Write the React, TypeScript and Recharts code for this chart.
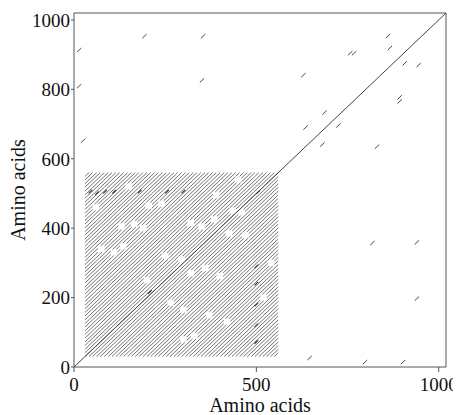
import { Label, Line, LineChart, ReferenceLine, XAxis, YAxis } from "recharts";

const seqLength = 1020;
const xTicks = [0, 500, 1000];
const yTicks = [0, 200, 400, 600, 800, 1000];

// repeat block on the dot plot (same range on both axes)
const blockStart = 30;
const blockEnd = 560;

// offsets (y - x) of the diagonal repeat lines inside the block
const hatchOffsets = [
  -519, -509, -498, -488, -477, -466, -456, -445, -435, -424, -413, -403, -392, -382, -371, -360, -350,
  -339, -329, -318, -307, -297, -286, -276, -265, -254, -244, -233, -223, -212, -201, -191, -180, -170,
  -159, -148, -138, -127, -117, -106, -95, -85, -74, -64, -53, -42, -32, -21, -11, 0, 11, 21, 32, 42, 53,
  64, 74, 85, 95, 106, 117, 127, 138, 148, 159, 170, 180, 191, 201, 212, 223, 233, 244, 254, 265, 276,
  286, 297, 307, 318, 329, 339, 350, 360, 371, 382, 392, 403, 413, 424, 435, 445, 456, 466, 477, 488,
  498, 509, 519,
];

// small breaks in the repeat lines (centres)
const gapX = [
  130, 165, 190, 320, 350, 385, 425, 470, 75, 110, 135, 250, 295, 320, 360, 400, 205, 240, 390, 265, 300,
  370, 420, 300, 330, 435, 460, 60, 540, 520, 200, 150, 450,
];
const gapY = [
  405, 412, 400, 415, 405, 425, 385, 380, 340, 330, 348, 320, 310, 270, 285, 262, 465, 470, 495, 185, 165,
  150, 130, 80, 90, 450, 445, 460, 300, 200, 250, 520, 540,
];
const gapHalf = 9;

// short isolated matches (centres)
const dotX = [14, 193, 354, 14, 351, 25, 861, 866, 757, 768, 907, 945, 629, 893, 893, 687, 635, 725, 681, 831, 818, 940, 940, 646, 798, 902];
const dotY = [913, 953, 953, 809, 826, 652, 954, 919, 904, 904, 875, 870, 841, 777, 765, 733, 690, 696, 641, 635, 357, 359, 197, 26, 14, 14];
const dotHalf = 6;

// darker overlapping matches inside the block
const darkX = [45, 63, 85, 110, 180, 255, 300, 505, 500, 500, 500, 500, 500, 208];
const darkY = [505, 501, 505, 505, 505, 505, 505, 504, 72, 120, 180, 240, 290, 216];

type Pt = { x: number; y: number | null };

function addSeg(out: Pt[], x0: number, y0: number, x1: number, y1: number) {
  out.push({ x: x0, y: y0 }, { x: x1, y: y1 }, { x: x1, y: null });
}

function buildHatch(): Pt[] {
  const out: Pt[] = [];
  hatchOffsets.forEach((d) => {
    const lo = Math.max(blockStart, blockStart - d);
    const hi = Math.min(blockEnd, blockEnd - d);
    if (hi <= lo) return;
    const cuts = gapX
      .map((gx, i) => [
        Math.max(gx - gapHalf, gapY[i] - gapHalf - d),
        Math.min(gx + gapHalf, gapY[i] + gapHalf - d),
      ])
      .filter((c) => c[1] > c[0])
      .sort((a, b) => a[0] - b[0]);
    let start = lo;
    cuts.forEach(([a, b]) => {
      if (a > start) addSeg(out, start, start + d, Math.min(a, hi), Math.min(a, hi) + d);
      start = Math.max(start, b);
    });
    if (hi > start) addSeg(out, start, start + d, hi, hi + d);
  });
  return out;
}

function buildShort(xs: number[], ys: number[], h: number): Pt[] {
  const out: Pt[] = [];
  xs.forEach((x, i) => addSeg(out, x - h, ys[i] - h, x + h, ys[i] + h));
  return out;
}

const hatchData = buildHatch();
const dotData = buildShort(dotX, dotY, dotHalf);
const darkData = buildShort(darkX, darkY, 5);
const diagData: Pt[] = [
  { x: 0, y: 0 },
  { x: seqLength, y: seqLength },
];

const font = { fontFamily: "Liberation Serif, Times New Roman, serif", fontSize: 19, fill: "#111" };

export default function App() {
  return (
    <LineChart width={453} height={407} margin={{ top: 5, right: 15, bottom: 0, left: 0 }}>
      <XAxis
        type="number"
        dataKey="x"
        domain={[0, seqLength]}
        ticks={xTicks}
        allowDataOverflow
        height={48}
        tickSize={5}
        tickMargin={6}
        tick={font}
        stroke="#555"
        interval={0}
      >
        <Label value="Amino acids" position="insideBottom" offset={3} {...font} fontSize={20} />
      </XAxis>
      <YAxis
        type="number"
        domain={[0, seqLength]}
        ticks={yTicks}
        allowDataOverflow
        width={66}
        tickSize={3}
        tickMargin={1}
        tick={font}
        stroke="#555"
        interval={0}
      >
        <Label
          value="Amino acids"
          angle={-90}
          position="insideLeft"
          offset={10}
          {...font}
          fontSize={20}
          style={{ textAnchor: "middle" }}
        />
      </YAxis>
      <ReferenceLine y={seqLength} stroke="#555" />
      <ReferenceLine x={seqLength} stroke="#555" />
      <Line data={hatchData} dataKey="y" stroke="#5a5a5a" strokeWidth={0.85} dot={false} activeDot={false} isAnimationActive={false} />
      <Line data={diagData} dataKey="y" stroke="#444" strokeWidth={1} dot={false} activeDot={false} isAnimationActive={false} />
      <Line data={dotData} dataKey="y" stroke="#444" strokeWidth={1} dot={false} activeDot={false} isAnimationActive={false} />
      <Line data={darkData} dataKey="y" stroke="#333" strokeWidth={1.1} dot={false} activeDot={false} isAnimationActive={false} />
    </LineChart>
  );
}
